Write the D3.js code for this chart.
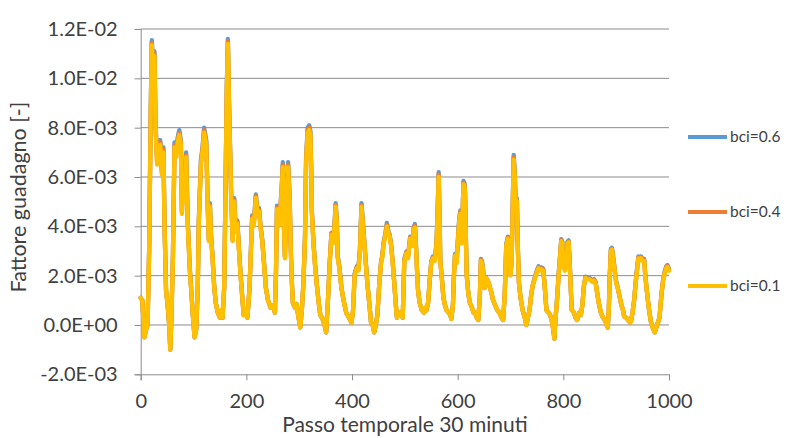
<!DOCTYPE html>
<html><head><meta charset="utf-8">
<script src="https://cdn.jsdelivr.net/npm/d3@7"></script>
<style>
html,body{margin:0;padding:0;background:#fff;}
svg{display:block;}
text{font-family:Lato,"Open Sans",sans-serif;fill:#404040;}
</style></head>
<body>
<svg id="chart" width="786" height="438"></svg>
<script>
// Values are in units of 1E-03
const steps = [0,3,7,10,13,16,19,21,23,26,28,31,34,37,40,43,45,48,51,54,56,58,61,64,67,70,73,76,78,80,83,86,89,93,96,99,102,105,108,110,114,117,120,124,127,129,131,133,136,139,142,146,150,153,155,158,160,163,165,167,168,171,174,177,180,183,186,189,192,195,198,202,206,209,211,214,218,221,224,227,230,234,237,241,246,
250,254,256,258,261,264,267,269,271,273,276,279,282,284,286,288,292,295,298,302,305,308,311,313,316,319,321,323,324,327,330,334,337,340,345,348,351,354,358,361,364,367,369,371,373,376,380,384,389,394,399,402,405,409,412,415,418,420,423,426,429,433,436,439,442,445,448,452,455,457,460,463,466,469,471,474,477,480,483,485,488,492,496,
499,503,506,510,514,517,519,521,523,525,528,532,536,539,541,544,547,550,553,557,560,562,564,566,567,570,573,576,579,583,586,588,591,593,595,598,601,603,605,607,609,611,613,614,616,617,620,623,627,630,633,636,639,642,644,646,648,651,654,657,660,664,667,671,675,679,683,686,689,692,695,697,700,702,704,706,708,709,711,712,714,716,719,723,727,730,733,736,739,
742,745,748,751,753,756,759,762,765,768,772,775,778,781,783,785,788,791,794,796,798,800,803,806,808,810,812,814,816,820,823,826,830,833,836,839,842,846,850,852,855,858,861,864,867,871,875,879,882,884,886,888,890,892,893,896,900,903,906,910,913,915,919,923,926,928,931,934,937,940,942,944,947,950,953,955,957,960,963,966,969,971,973,976,979,982,984,986,989,992,995,997,1000];

const bci06 = [1.1,1.0,-0.5,-0.2,0.0,3.08,8.7,11.55,10.7,11.1,8.3,6.7,7.2,7.5,6.3,7.2,4.24,1.4,0.8,0.0,-1.0,0.2,2.78,7.4,7.0,7.6,7.9,7.5,4.64,6.2,5.14,7.0,4.24,2.28,1.3,0.3,-0.5,-0.2,1.5,4.24,6.7,7.2,8.0,7.5,4.74,3.48,4.94,3.68,2.78,1.6,0.9,0.5,0.3,0.6,0.3,1.5,4.64,9.7,11.6,9.2,8.3,5.54,3.48,5.14,3.88,4.24,3.08,2.08,1.2,0.4,0.6,0.3,1.5,3.28,4.44,4.14,5.29,4.64,4.74,3.98,3.48,2.38,1.5,1.0,0.7,
0.8,0.5,2.08,4.84,4.14,4.64,5.64,6.6,4.14,2.78,5.14,6.6,5.14,3.18,1.8,0.9,0.7,0.85,0.4,-0.1,0.6,1.7,3.58,6.7,8.0,8.1,7.9,6.2,4.64,3.38,2.48,1.5,0.9,0.4,0.2,0.0,-0.3,0.8,2.63,3.73,3.38,4.14,4.94,4.34,2.78,2.38,1.5,1.0,0.5,0.3,0.1,0.6,2.08,2.38,2.28,3.08,4.94,4.34,3.48,2.58,1.7,0.8,0.1,0.0,-0.3,0.0,0.4,1.8,2.58,2.78,3.38,3.68,4.14,3.78,3.68,3.28,2.58,1.7,0.8,0.3,0.5,0.5,0.3,
2.68,2.98,2.78,3.58,3.28,3.98,4.09,3.28,2.28,1.4,0.9,0.6,0.5,0.7,0.6,0.9,1.8,2.58,2.78,2.68,3.38,4.64,6.2,4.14,2.68,1.9,1.1,0.8,0.6,0.5,0.4,0.25,0.8,2.08,2.88,2.58,3.68,4.34,4.64,3.38,4.34,5.84,5.74,5.34,3.08,2.08,1.3,0.9,0.7,0.5,0.5,0.3,0.2,1.2,2.68,2.58,2.28,1.5,1.9,1.8,1.6,1.3,1.0,0.8,0.6,0.5,0.3,0.2,1.2,3.28,3.58,3.48,2.08,2.58,4.64,6.9,6.2,5.49,4.94,5.14,3.08,1.7,1.1,0.6,0.3,0.0,0.3,0.6,1.2,
1.6,1.86,2.08,2.28,2.38,2.28,2.33,2.28,1.5,0.6,0.5,0.4,0.2,-0.2,-0.55,0.2,1.0,2.03,2.88,3.48,3.38,2.58,2.28,2.68,3.38,3.43,2.58,1.5,0.6,0.5,0.3,0.2,0.5,0.4,0.8,1.6,1.96,1.91,1.91,1.86,1.81,1.86,1.76,1.3,0.9,0.5,0.3,0.2,0.0,-0.1,0.6,2.08,3.08,3.13,2.98,2.48,1.76,1.5,1.2,0.8,0.6,0.35,0.3,0.2,0.1,0.15,0.5,1.0,1.76,2.38,2.78,2.68,2.78,2.68,2.68,2.08,1.6,1.0,0.5,0.1,-0.1,-0.2,-0.3,-0.1,0.1,0.3,0.8,1.3,1.86,2.18,2.38,2.43,2.28];

const bci04 = [1.1,1.0,-0.5,-0.2,0.0,3.04,8.6,11.45,10.6,11.0,8.2,6.6,7.1,7.4,6.2,7.1,4.17,1.4,0.8,0.0,-1.0,0.2,2.74,7.3,6.9,7.5,7.8,7.4,4.57,6.1,5.07,6.9,4.17,2.24,1.3,0.3,-0.5,-0.2,1.5,4.17,6.6,7.1,7.9,7.4,4.67,3.44,4.87,3.64,2.74,1.6,0.9,0.5,0.3,0.6,0.3,1.5,4.57,9.6,11.5,9.1,8.2,5.47,3.44,5.07,3.84,4.17,3.04,2.04,1.2,0.4,0.6,0.3,1.5,3.24,4.37,4.07,5.22,4.57,4.67,3.94,3.44,2.34,1.5,1.0,0.7,
0.8,0.5,2.04,4.77,4.07,4.57,5.57,6.5,4.07,2.74,5.07,6.5,5.07,3.14,1.8,0.9,0.7,0.85,0.4,-0.1,0.6,1.7,3.54,6.6,7.9,8.0,7.8,6.1,4.57,3.34,2.44,1.5,0.9,0.4,0.2,0.0,-0.3,0.8,2.59,3.69,3.34,4.07,4.87,4.27,2.74,2.34,1.5,1.0,0.5,0.3,0.1,0.6,2.04,2.34,2.24,3.04,4.87,4.27,3.44,2.54,1.7,0.8,0.1,0.0,-0.3,0.0,0.4,1.8,2.54,2.74,3.34,3.64,4.07,3.74,3.64,3.24,2.54,1.7,0.8,0.3,0.5,0.5,0.3,
2.64,2.94,2.74,3.54,3.24,3.94,4.02,3.24,2.24,1.4,0.9,0.6,0.5,0.7,0.6,0.9,1.8,2.54,2.74,2.64,3.34,4.57,6.1,4.07,2.64,1.9,1.1,0.8,0.6,0.5,0.4,0.25,0.8,2.04,2.84,2.54,3.64,4.27,4.57,3.34,4.27,5.77,5.67,5.27,3.04,2.04,1.3,0.9,0.7,0.5,0.5,0.3,0.2,1.2,2.64,2.54,2.24,1.5,1.9,1.8,1.6,1.3,1.0,0.8,0.6,0.5,0.3,0.2,1.2,3.24,3.54,3.44,2.04,2.54,4.57,6.8,6.1,5.42,4.87,5.07,3.04,1.7,1.1,0.6,0.3,0.0,0.3,0.6,1.2,
1.6,1.83,2.04,2.24,2.34,2.24,2.29,2.24,1.5,0.6,0.5,0.4,0.2,-0.2,-0.55,0.2,1.0,1.99,2.84,3.44,3.34,2.54,2.24,2.64,3.34,3.39,2.54,1.5,0.6,0.5,0.3,0.2,0.5,0.4,0.8,1.6,1.93,1.88,1.88,1.83,1.78,1.83,1.73,1.3,0.9,0.5,0.3,0.2,0.0,-0.1,0.6,2.04,3.04,3.09,2.94,2.44,1.73,1.5,1.2,0.8,0.6,0.35,0.3,0.2,0.1,0.15,0.5,1.0,1.73,2.34,2.74,2.64,2.74,2.64,2.64,2.04,1.6,1.0,0.5,0.1,-0.1,-0.2,-0.3,-0.1,0.1,0.3,0.8,1.3,1.83,2.14,2.34,2.39,2.24];

const bci01 = [1.1,1.0,-0.5,-0.2,0.0,3.0,8.5,11.35,10.5,10.9,8.1,6.5,7.0,7.3,6.1,7.0,4.1,1.4,0.8,0.0,-1.0,0.2,2.7,7.2,6.8,7.4,7.7,7.3,4.5,6.0,5.0,6.8,4.1,2.2,1.3,0.3,-0.5,-0.2,1.5,4.1,6.5,7.0,7.8,7.3,4.6,3.4,4.8,3.6,2.7,1.6,0.9,0.5,0.3,0.6,0.3,1.5,4.5,9.5,11.4,9.0,8.1,5.4,3.4,5.0,3.8,4.1,3.0,2.0,1.2,0.4,0.6,0.3,1.5,3.2,4.3,4.0,5.15,4.5,4.6,3.9,3.4,2.3,1.5,1.0,0.7,
0.8,0.5,2.0,4.7,4.0,4.5,5.5,6.4,4.0,2.7,5.0,6.4,5.0,3.1,1.8,0.9,0.7,0.85,0.4,-0.1,0.6,1.7,3.5,6.5,7.8,7.9,7.7,6.0,4.5,3.3,2.4,1.5,0.9,0.4,0.2,0.0,-0.3,0.8,2.55,3.65,3.3,4.0,4.8,4.2,2.7,2.3,1.5,1.0,0.5,0.3,0.1,0.6,2.0,2.3,2.2,3.0,4.8,4.2,3.4,2.5,1.7,0.8,0.1,0.0,-0.3,0.0,0.4,1.8,2.5,2.7,3.3,3.6,4.0,3.7,3.6,3.2,2.5,1.7,0.8,0.3,0.5,0.5,0.3,
2.6,2.9,2.7,3.5,3.2,3.9,3.95,3.2,2.2,1.4,0.9,0.6,0.5,0.7,0.6,0.9,1.8,2.5,2.7,2.6,3.3,4.5,6.0,4.0,2.6,1.9,1.1,0.8,0.6,0.5,0.4,0.25,0.8,2.0,2.8,2.5,3.6,4.2,4.5,3.3,4.2,5.7,5.6,5.2,3.0,2.0,1.3,0.9,0.7,0.5,0.5,0.3,0.2,1.2,2.6,2.5,2.2,1.5,1.9,1.8,1.6,1.3,1.0,0.8,0.6,0.5,0.3,0.2,1.2,3.2,3.5,3.4,2.0,2.5,4.5,6.7,6.0,5.35,4.8,5.0,3.0,1.7,1.1,0.6,0.3,0.0,0.3,0.6,1.2,
1.6,1.8,2.0,2.2,2.3,2.2,2.25,2.2,1.5,0.6,0.5,0.4,0.2,-0.2,-0.55,0.2,1.0,1.95,2.8,3.4,3.3,2.5,2.2,2.6,3.3,3.35,2.5,1.5,0.6,0.5,0.3,0.2,0.5,0.4,0.8,1.6,1.9,1.85,1.85,1.8,1.75,1.8,1.7,1.3,0.9,0.5,0.3,0.2,0.0,-0.1,0.6,2.0,3.0,3.05,2.9,2.4,1.7,1.5,1.2,0.8,0.6,0.35,0.3,0.2,0.1,0.15,0.5,1.0,1.7,2.3,2.7,2.6,2.7,2.6,2.6,2.0,1.6,1.0,0.5,0.1,-0.1,-0.2,-0.3,-0.1,0.1,0.3,0.8,1.3,1.8,2.1,2.3,2.35,2.2];

const seriesNames = ["bci=0.6", "bci=0.4", "bci=0.1"];
const seriesColors = ["#5B9BD5", "#ED7D31", "#FFC000"];
const yTicks = [-2, 0, 2, 4, 6, 8, 10, 12];
const yTickLabels = ["-2.0E-03","0.0E+00","2.0E-03","4.0E-03","6.0E-03","8.0E-03","1.0E-02","1.2E-02"];
const xTicks = [0, 200, 400, 600, 800, 1000];
const xTitle = "Passo temporale 30 minuti";
const yTitle = "Fattore guadagno [-]";

const svg = d3.select("#chart");
const x = d3.scaleLinear().domain([0, 1000]).range([140.7, 669]);
const y = d3.scaleLinear().domain([-2, 12]).range([374.3, 29]);
const grid = "#8c8c8c";

// gridlines
svg.append("g").selectAll("line").data(yTicks.filter(d => d > -2)).join("line")
  .attr("x1", x(0)).attr("x2", x(1000))
  .attr("y1", d => y(d)).attr("y2", d => y(d))
  .attr("stroke", grid).attr("stroke-width", 1);

// y axis
const yAxis = svg.append("g").attr("transform", `translate(${x(0)},0)`)
  .call(d3.axisLeft(y).tickValues(yTicks).tickSize(6).tickPadding(17)
    .tickFormat((d, i) => yTickLabels[i]));
yAxis.select(".domain").attr("stroke", grid);
yAxis.selectAll(".tick line").attr("stroke", grid);
yAxis.selectAll(".tick text").attr("font-size", 20).attr("fill", "#404040")
  .attr("font-family", "Lato");

// x axis
const xAxis = svg.append("g").attr("transform", `translate(0,${y(-2)})`)
  .call(d3.axisBottom(x).tickValues(xTicks).tickSize(6).tickPadding(14).tickFormat(d3.format("d")));
xAxis.select(".domain").attr("stroke", grid);
xAxis.selectAll(".tick line").attr("stroke", grid);
xAxis.selectAll(".tick text").attr("font-size", 20).attr("fill", "#404040")
  .attr("font-family", "Lato");

// series
const allSeries = [bci06, bci04, bci01];
const line = d3.line().x(d => x(d[0])).y(d => y(d[1])).curve(d3.curveLinear);
allSeries.forEach((vals, k) => {
  svg.append("path")
    .datum(steps.map((s, i) => [s, vals[i]]))
    .attr("d", line)
    .attr("fill", "none")
    .attr("stroke", seriesColors[k])
    .attr("stroke-width", 4.3)
    .attr("stroke-linejoin", "round")
    .attr("stroke-linecap", "round");
});

// legend
const legY = [137, 212, 286];
seriesNames.forEach((n, k) => {
  svg.append("line").attr("x1", 688).attr("x2", 727)
    .attr("y1", legY[k]).attr("y2", legY[k])
    .attr("stroke", seriesColors[k]).attr("stroke-width", 4);
  svg.append("text").attr("x", 730).attr("y", legY[k]).attr("dy", "0.35em")
    .attr("font-size", 15.5).text(n);
});

// titles
svg.append("text").attr("x", x(500)).attr("y", 432)
  .attr("text-anchor", "middle").attr("font-size", 21).text(xTitle);
svg.append("text").attr("transform", "translate(26,197) rotate(-90)")
  .attr("text-anchor", "middle").attr("font-size", 21.5).text(yTitle);
</script>
</body></html>
